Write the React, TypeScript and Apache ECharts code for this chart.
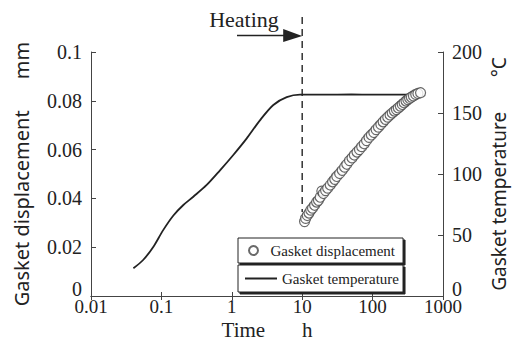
import React, { useEffect, useRef } from 'react';
import * as echarts from 'echarts';

// ---- data ----
const timeTickLabels = ['0.01', '0.1', '1', '10', '100', '1000'];
const dispTickLabels = ['0', '0.02', '0.04', '0.06', '0.08', '0.1'];
const tempTickLabels = ['0', '50', '100', '150', '200'];

// Gasket temperature (°C) vs time (h)
const tempTimes = [0.04, 0.055, 0.077, 0.106, 0.148, 0.205, 0.284, 0.44, 0.68, 1.05, 1.62, 2.51, 3.89, 6.03, 9.3, 20, 50, 100, 200, 400];
const tempValues = [22.7, 29.5, 40.4, 54, 66, 74.6, 81.4, 91, 103, 115.6, 129, 144, 156.6, 163, 165, 165, 165.2, 165, 165, 165.3];

// Gasket displacement (mm) vs time (h)
const dispTimes = [10.8, 11.2, 11.8, 12.5, 13.2, 14.0, 15.0, 16.0, 17.0, 18.0, 19.0, 20.0, 21.5, 23.0, 25.0, 27.0, 29.0, 31.0, 34.0, 37.0, 40.0, 43.0, 47.0, 51.0, 55.0, 60.0, 65.0, 70.0, 76.0, 82.0, 89.0, 96.0, 104, 112, 121, 131, 141, 152, 164, 177, 190, 204, 218, 232, 248, 264, 280, 298, 316, 335, 355, 380, 410, 440, 480];
const dispValues = [0.0305, 0.0318, 0.0330, 0.0340, 0.0352, 0.0360, 0.0372, 0.0385, 0.0392, 0.0405, 0.0430, 0.0420, 0.0432, 0.0442, 0.0455, 0.0468, 0.0478, 0.0490, 0.0502, 0.0515, 0.0528, 0.0540, 0.0555, 0.0566, 0.0578, 0.0590, 0.0600, 0.0612, 0.0624, 0.0637, 0.0650, 0.0660, 0.0670, 0.0682, 0.0692, 0.0703, 0.0714, 0.0724, 0.0733, 0.0742, 0.0750, 0.0758, 0.0764, 0.0771, 0.0778, 0.0785, 0.0792, 0.0799, 0.0805, 0.0810, 0.0815, 0.0820, 0.0826, 0.0830, 0.0833];

const heatingStart = 10;

const SERIF = '"Liberation Serif", "Times New Roman", serif';
const SANS = '"Noto Sans", "Open Sans", sans-serif';
const INK = '#222';

export default function App() {
  const ref = useRef<HTMLDivElement>(null);

  useEffect(() => {
    if (!ref.current) return;
    const chart = echarts.init(ref.current, undefined, { renderer: 'svg' });

    const xLabel = (v: number) => timeTickLabels[Math.round(Math.log10(v)) + 2] ?? '';
    const sp = (n: number) => '\u00a0'.repeat(n);
    const zeroRich = { z: { padding: [0, 0, 14, 0], fontFamily: SERIF, fontSize: 20, color: INK, lineHeight: 16 } };

    chart.setOption({
      animation: false,
      backgroundColor: '#fff',
      grid: { left: 91, right: 71, top: 52, bottom: 45, outerBoundsMode: 'none', containLabel: false },
      xAxis: [
        {
          type: 'log',
          logBase: 10,
          min: 0.01,
          max: 1000,
          position: 'bottom',
          name: 'Time' + sp(7) + 'h',
          nameLocation: 'middle',
          nameGap: 23,
          nameMoveOverlap: false,
          nameTextStyle: { fontFamily: SERIF, fontSize: 21, color: INK, lineHeight: 21 },
          axisLine: { lineStyle: { color: '#444', width: 1 } },
          axisTick: { inside: true, length: 4, lineStyle: { color: '#444' } },
          minorTick: { show: false },
          splitLine: { show: false },
          axisLabel: { formatter: xLabel, fontFamily: SERIF, fontSize: 19, color: INK, margin: 2, lineHeight: 17 },
        },
        {
          type: 'log',
          logBase: 10,
          min: 0.01,
          max: 1000,
          position: 'top',
          axisLine: { lineStyle: { color: '#444', width: 1 } },
          axisTick: { inside: true, length: 4, lineStyle: { color: '#444' } },
          splitLine: { show: false },
          axisLabel: { show: false },
        },
      ],
      yAxis: [
        {
          type: 'value',
          min: 0,
          max: 0.1,
          interval: 0.02,
          position: 'left',
          name: 'Gasket displacement' + sp(6) + 'mm',
          nameLocation: 'middle',
          nameRotate: 90,
          nameGap: 60,
          nameMoveOverlap: false,
          nameTextStyle: { fontFamily: SANS, fontSize: 20, color: INK },
          axisLine: { show: true, lineStyle: { color: '#444', width: 1 } },
          axisTick: { show: true, inside: true, length: 5, lineStyle: { color: '#444' } },
          splitLine: { show: false },
          axisLabel: {
            formatter: (v: number) => {
              const i = Math.round(v / 0.02);
              return i === 0 ? '{z|0}' : dispTickLabels[i] ?? '';
            },
            rich: zeroRich,
            fontFamily: SERIF,
            fontSize: 20,
            color: INK,
            margin: 9,
          },
        },
        {
          type: 'value',
          min: 0,
          max: 200,
          interval: 50,
          position: 'right',
          name: 'Gasket temperature' + sp(7) + '°C',
          nameLocation: 'middle',
          nameRotate: 90,
          nameGap: 46,
          nameMoveOverlap: false,
          nameTextStyle: { fontFamily: SANS, fontSize: 19, color: INK },
          axisLine: { show: true, lineStyle: { color: '#444', width: 1 } },
          axisTick: { show: true, inside: true, length: 5, lineStyle: { color: '#444' } },
          splitLine: { show: false },
          axisLabel: {
            formatter: (v: number) => {
              const i = Math.round(v / 50);
              return i === 0 ? '{z|0}' : tempTickLabels[i] ?? '';
            },
            rich: zeroRich,
            fontFamily: SERIF,
            fontSize: 20,
            color: INK,
            margin: 9,
          },
        },
      ],
      legend: [
        {
          left: 238,
          top: 238,
          orient: 'horizontal',
          data: [{ name: 'Gasket displacement', icon: 'circle' }],
          itemWidth: 24,
          itemHeight: 9,
          padding: [5, 8, 5, 10],
          backgroundColor: '#fff',
          borderColor: INK,
          borderWidth: 1,
          shadowColor: '#222',
          shadowOffsetX: 2,
          shadowOffsetY: 2,
          shadowBlur: 0,
          textStyle: { fontFamily: SERIF, fontSize: 15, color: INK },
          selectedMode: false,
        },
        {
          left: 238,
          top: 265,
          orient: 'horizontal',
          data: [{ name: 'Gasket temperature', icon: 'rect' }],
          itemWidth: 32,
          itemHeight: 2,
          padding: [6, 4, 6, 7],
          backgroundColor: '#fff',
          borderColor: INK,
          borderWidth: 1,
          shadowColor: '#222',
          shadowOffsetX: 2,
          shadowOffsetY: 2,
          shadowBlur: 0,
          textStyle: { fontFamily: SERIF, fontSize: 15, color: INK, lineHeight: 15 },
          selectedMode: false,
        },
      ],
      series: [
        {
          name: 'Gasket temperature',
          type: 'line',
          xAxisIndex: 0,
          yAxisIndex: 1,
          data: tempTimes.map((t, i) => [t, tempValues[i]]),
          showSymbol: false,
          symbol: 'none',
          smooth: 0.3,
          lineStyle: { color: INK, width: 1.8 },
          itemStyle: { color: INK },
          z: 2,
        },
        {
          name: 'Gasket displacement',
          type: 'scatter',
          xAxisIndex: 0,
          yAxisIndex: 0,
          data: dispTimes.map((t, i) => [t, dispValues[i]]),
          symbol: 'circle',
          symbolSize: 10,
          itemStyle: { color: '#fff', borderColor: '#444', borderWidth: 1.2 },
          z: 3,
        },
      ],
    });

    const px = chart.convertToPixel({ xAxisIndex: 0 }, heatingStart) as number;
    chart.setOption({
      graphic: [
        {
          type: 'line',
          shape: { x1: px, y1: 17, x2: px, y2: 212 },
          style: { stroke: '#333', lineWidth: 1.5, lineDash: [7, 5] },
          z: 1,
        },
        {
          type: 'line',
          shape: { x1: 237, y1: 35.5, x2: px - 16, y2: 35.5 },
          style: { stroke: INK, lineWidth: 1.5 },
        },
        {
          type: 'polygon',
          shape: { points: [[px - 19, 29], [px, 36], [px - 19, 42]] },
          style: { fill: INK },
        },
        {
          type: 'text',
          x: 244,
          y: 8,
          style: {
            text: 'Heating',
            fontFamily: SERIF,
            fontSize: 22,
            fill: INK,
            align: 'center',
            verticalAlign: 'top',
          },
        },
      ],
    });

    return () => chart.dispose();
  }, []);

  return (
    <div
      ref={ref}
      style={{ position: 'fixed', left: 0, top: 0, width: 514, height: 341, background: '#fff' }}
    />
  );
}
